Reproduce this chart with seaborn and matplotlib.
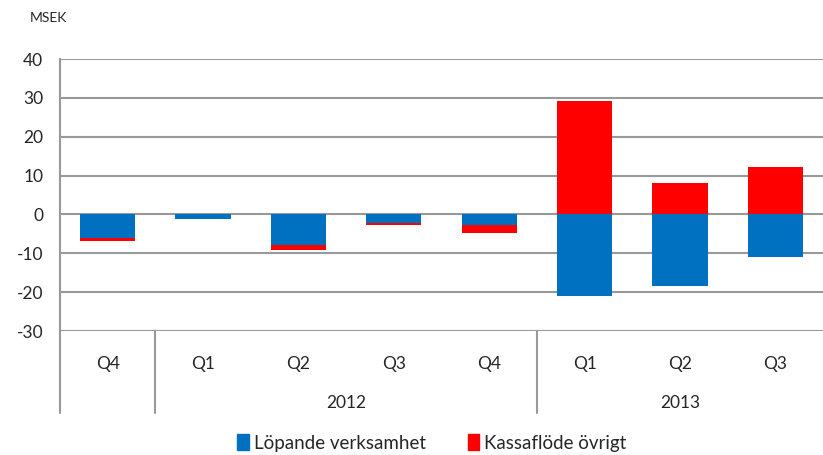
import numpy as np
import pandas as pd
import matplotlib
matplotlib.use("Agg")
import matplotlib.pyplot as plt
import matplotlib.transforms as mtransforms
from matplotlib.patches import Patch
import seaborn as sns

# data
quarters = ["Q4", "Q1", "Q2", "Q3", "Q4", "Q1", "Q2", "Q3"]
years = ["2011", "2012", "2012", "2012", "2012", "2013", "2013", "2013"]
lopande = [-6.0, -1.1, -7.8, -2.3, -2.7, -21.1, -18.5, -11.0]
ovrigt = [-0.9, -0.1, -1.3, -0.5, -2.1, 29.3, 8.0, 12.1]
year_groups = [("", 0, 1), ("2012", 1, 5), ("2013", 5, 8)]
yticks = [-30, -20, -10, 0, 10, 20, 30, 40]

blue = "#0070C0"
red = "#FF0000"
grey = "#999999"

df = pd.DataFrame({"cat": [f"{y}-{q}" for y, q in zip(years, quarters)],
                   "lopande": lopande, "ovrigt": ovrigt})
# red segment: stacked below blue when negative, starting at zero when positive
df["red_top"] = np.where(df["ovrigt"] > 0, df["ovrigt"], df["lopande"] + df["ovrigt"])

sns.set_style("white")
plt.rcParams["font.family"] = ["Lato", "DejaVu Sans"]

fig = plt.figure(figsize=(8.23, 4.55), dpi=100)
ax = fig.add_axes([60 / 823, 1 - 331 / 455, 1 - 60 / 823, (331 - 59) / 455])

sns.barplot(data=df, x="cat", y="red_top", color=red, width=0.58, ax=ax,
            saturation=1, linewidth=0, zorder=3)
sns.barplot(data=df, x="cat", y="lopande", color=blue, width=0.58, ax=ax,
            saturation=1, linewidth=0, zorder=4)

ax.set_ylim(-30, 40)
ax.set_xlim(-0.5, len(quarters) - 0.5)
ax.set_yticks(yticks)
ax.set_yticklabels([str(t) for t in yticks], fontsize=12.5)
ax.yaxis.grid(True, color=grey, linewidth=1.5, zorder=0)
ax.set_axisbelow(True)
ax.tick_params(axis="both", length=0, pad=12)
ax.set_xlabel("")
ax.set_ylabel("")
for side in ["top", "right", "bottom"]:
    ax.spines[side].set_visible(False)
ax.spines["left"].set_color(grey)
ax.spines["left"].set_linewidth(1.5)

# multi-level category axis
ax.set_xticks(range(len(quarters)))
ax.set_xticklabels(quarters, fontsize=12.5)
ax.tick_params(axis="x", pad=18)
trans = mtransforms.blended_transform_factory(ax.transData, ax.transAxes)
axis_h = (331 - 59)
for label, start, end in year_groups:
    if label:
        ax.text((start + end - 1) / 2, -72 / axis_h, label, transform=trans,
                ha="center", va="center", fontsize=12.5)
    if start > 0:
        ax.plot([start - 0.5, start - 0.5], [0, -82 / axis_h], transform=trans,
                color=grey, linewidth=1.5, clip_on=False)
ax.plot([-0.5, -0.5], [0, -82 / axis_h], transform=trans,
        color=grey, linewidth=1.5, clip_on=False)

fig.text(30 / 823, 1 - 18 / 455, "MSEK", fontsize=10, va="center")

handles = [Patch(color=blue, label="Löpande verksamhet"),
           Patch(color=red, label="Kassaflöde övrigt")]
fig.legend(handles=handles, loc="center", bbox_to_anchor=(0.525, 1 - 443 / 455),
           ncol=2, frameon=False, fontsize=13.5, handlelength=0.6, handleheight=0.9,
           handletextpad=0.3, columnspacing=2.2)

fig.savefig("out.png", dpi=100)
